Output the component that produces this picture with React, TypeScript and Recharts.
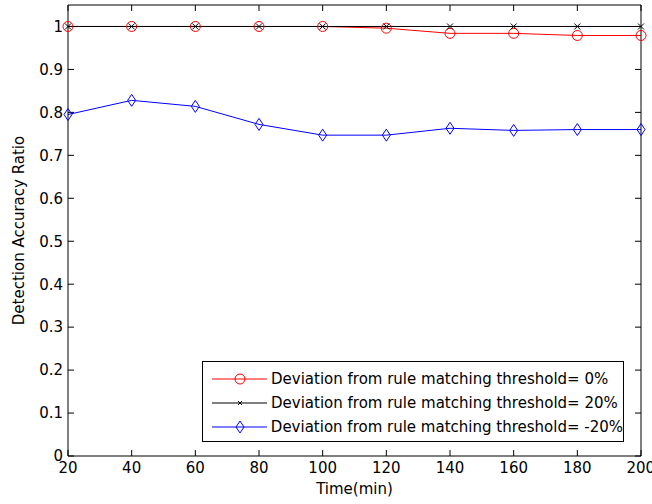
import React from 'react';
import { LineChart, Line, XAxis, YAxis, Legend } from 'recharts';

const times = [20, 40, 60, 80, 100, 120, 140, 160, 180, 200];
const dev0 = [1, 1, 1, 1, 1, 0.996, 0.984, 0.984, 0.979, 0.979];
const dev20 = [1, 1, 1, 1, 1, 1, 1, 1, 1, 1];
const devNeg20 = [0.795, 0.828, 0.814, 0.772, 0.747, 0.747, 0.763, 0.758, 0.76, 0.76];
const xTicks = [20, 40, 60, 80, 100, 120, 140, 160, 180, 200];
const yTicks = [0, 0.1, 0.2, 0.3, 0.4, 0.5, 0.6, 0.7, 0.8, 0.9, 1];

const seriesNames = [
  'Deviation from rule matching threshold= 0%',
  'Deviation from rule matching threshold= 20%',
  'Deviation from rule matching threshold= -20%',
];

const data = times.map((t, i) => ({ t, a: dev0[i], b: dev20[i], c: devNeg20[i] }));

const FONT = '"DejaVu Sans", Verdana, sans-serif';
const tickStyle = { fill: '#000', fontSize: 15, fontFamily: FONT };

const circleDot = (p: any) => (
  <circle key={`o${p.index}`} cx={p.cx} cy={p.cy} r={5} stroke="#ff0000" fill="none" strokeWidth={1} />
);
const crossDot = (p: any) => (
  <path key={`x${p.index}`} d={`M${p.cx - 3},${p.cy - 3}L${p.cx + 3},${p.cy + 3}M${p.cx - 3},${p.cy + 3}L${p.cx + 3},${p.cy - 3}`} stroke="#000" strokeWidth={1} />
);
const diamondDot = (p: any) => (
  <path key={`d${p.index}`} d={`M${p.cx},${p.cy - 6}L${p.cx + 4},${p.cy}L${p.cx},${p.cy + 6}L${p.cx - 4},${p.cy}Z`} stroke="#0000ff" fill="none" strokeWidth={1} />
);

const LegendMark = ({ kind, color }: { kind: string; color: string }) => (
  <svg width={55} height={14} style={{ display: 'block' }}>
    <line x1={0} y1={7} x2={55} y2={7} stroke={color} />
    {kind === 'o' && <circle cx={28} cy={7} r={5} stroke={color} fill="none" />}
    {kind === 'x' && <path d="M26,5L30,9M26,9L30,5" stroke={color} />}
    {kind === 'd' && <path d="M28,1L32,7L28,13L24,7Z" stroke={color} fill="none" />}
  </svg>
);

const renderLegend = () => {
  const items = [
    { kind: 'o', color: '#ff0000' },
    { kind: 'x', color: '#000000' },
    { kind: 'd', color: '#0000ff' },
  ];
  return (
    <div style={{ border: '1px solid #000', background: '#fff', width: 420, height: 74, boxSizing: 'content-box', paddingTop: 5 }}>
      {items.map((it, i) => (
        <div key={i} style={{ display: 'flex', alignItems: 'center', height: 24, paddingLeft: 9 }}>
          <LegendMark kind={it.kind} color={it.color} />
          <span style={{ marginLeft: 4, fontFamily: FONT, fontSize: 15, color: '#000', whiteSpace: 'nowrap' }}>{seriesNames[i]}</span>
        </div>
      ))}
    </div>
  );
};

export default function App() {
  return (
    <div style={{ position: 'absolute', left: 0, top: 0, background: '#fff' }}>
      <LineChart width={652} height={504} data={data} margin={{ top: 0, right: 0, bottom: 18, left: 20 }}>
        <XAxis
          dataKey="t"
          type="number"
          domain={[20, 200]}
          ticks={xTicks}
          tick={tickStyle}
          tickSize={-6}
          tickMargin={12}
          height={30}
          stroke="#000"
          label={{ value: 'Time(min)', position: 'bottom', offset: 0, dy: -3, style: { fill: '#000', fontSize: 15, fontFamily: FONT } }}
        />
        <XAxis
          xAxisId="top"
          dataKey="t"
          orientation="top"
          type="number"
          domain={[20, 200]}
          ticks={xTicks}
          tickFormatter={() => ''}
          tickSize={-6}
          height={5}
          stroke="#000"
        />
        <YAxis
          type="number"
          domain={[0, 1.05]}
          ticks={yTicks}
          tick={tickStyle}
          tickSize={-6}
          tickMargin={11}
          width={48}
          stroke="#000"
          label={{ value: 'Detection Accuracy Ratio', angle: -90, position: 'left', offset: 0, dx: -1, style: { fill: '#000', fontSize: 15, fontFamily: FONT, textAnchor: 'middle' } }}
        />
        <YAxis
          yAxisId="right"
          orientation="right"
          type="number"
          domain={[0, 1.05]}
          ticks={yTicks}
          tickFormatter={() => ''}
          tickSize={-6}
          width={11}
          stroke="#000"
        />
        <Line type="linear" dataKey="a" name={seriesNames[0]} stroke="#ff0000" strokeWidth={1} dot={circleDot} isAnimationActive={false} />
        <Line type="linear" dataKey="b" name={seriesNames[1]} stroke="#000000" strokeWidth={1} dot={crossDot} isAnimationActive={false} />
        <Line type="linear" dataKey="c" name={seriesNames[2]} stroke="#0000ff" strokeWidth={1} dot={diamondDot} isAnimationActive={false} />
        {/* invisible series so the top and right frame axes get drawn */}
        <Line xAxisId="top" yAxisId="right" dataKey="b" stroke="none" dot={false} legendType="none" isAnimationActive={false} />
        <Legend
          layout="horizontal"
          verticalAlign="middle"
          align="center"
          content={renderLegend}
          wrapperStyle={{ left: 202, top: 361, width: 'auto' }}
        />
      </LineChart>
    </div>
  );
}
